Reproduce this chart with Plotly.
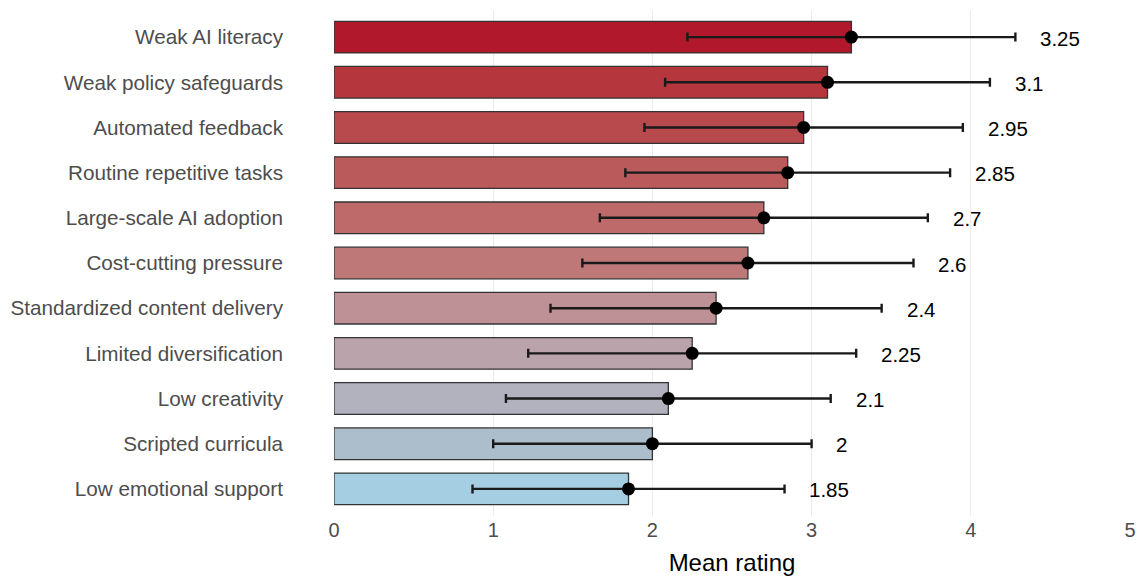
import plotly.graph_objects as go

categories = ["Weak AI literacy", "Weak policy safeguards", "Automated feedback",
              "Routine repetitive tasks", "Large-scale AI adoption", "Cost-cutting pressure",
              "Standardized content delivery", "Limited diversification", "Low creativity",
              "Scripted curricula", "Low emotional support"]
means = [3.25, 3.1, 2.95, 2.85, 2.7, 2.6, 2.4, 2.25, 2.1, 2.0, 1.85]
sds = [1.03, 1.02, 1.0, 1.02, 1.03, 1.04, 1.04, 1.03, 1.02, 1.0, 0.98]
colors = ["#B2182B", "#B5363D", "#B84A4D", "#BB5A5B", "#BE6A6B", "#BE7878",
          "#BE9196", "#BAA3AB", "#B2B2BE", "#ACBDCC", "#A6CEE3"]
x_ticks = [0, 1, 2, 3, 4, 5]

FONT = "Arial, 'Liberation Sans', sans-serif"

fig = go.Figure()
fig.add_trace(go.Bar(
    x=means, y=categories, orientation="h", width=0.7,
    marker=dict(color=colors, line=dict(color="#333333", width=1.3)),
    showlegend=False, hoverinfo="skip"))
fig.add_trace(go.Scatter(
    x=means, y=categories, mode="markers",
    marker=dict(color="black", size=13),
    error_x=dict(type="data", array=sds, arrayminus=sds, color="#1a1a1a", thickness=2.4, width=4.5),
    showlegend=False))

for c, m, s in zip(categories, means, sds):
    fig.add_annotation(x=m + s + 0.15, y=c, text=f"{m:g}", showarrow=False,
                       xanchor="left", yanchor="middle", yshift=-1, xshift=-1,
                       font=dict(family=FONT, size=20.5, color="black"))

fig.update_layout(
    width=1146, height=586,
    margin=dict(l=331, r=14, t=10, b=70),
    paper_bgcolor="white", plot_bgcolor="white",
    font=dict(family=FONT),
    xaxis=dict(range=[0, 5], tickvals=x_ticks, showgrid=True, gridcolor="#EBEBEB", gridwidth=1,
               zeroline=False, showline=False, ticks="",
               tickfont=dict(size=20, color="#4D4D4D"),
               title=dict(text="Mean rating", font=dict(size=24, color="black"), standoff=14)),
    yaxis=dict(categoryorder="array", categoryarray=categories[::-1], range=[-0.6, 10.6],
               showgrid=False, zeroline=False, showline=False, ticks="",
               ticklabelstandoff=50,
               tickfont=dict(size=20.7, color="#4D4D4D")),
)

fig.write_html("out.html")
